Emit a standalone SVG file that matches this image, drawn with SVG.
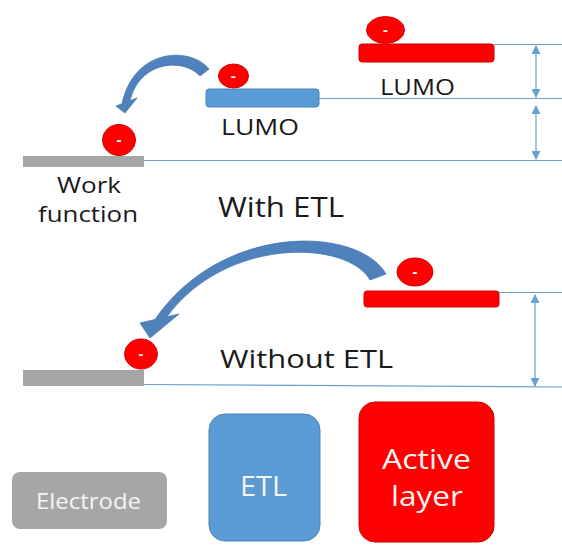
<svg xmlns="http://www.w3.org/2000/svg" width="562" height="546" viewBox="0 0 562 546">
  <defs>
    <style>
      text { font-family: "Open Sans", "Liberation Sans", sans-serif; }
      .lbl { fill: #1a1a1a; }
      .lvl { stroke: #6a9fd2; stroke-width: 1.2; fill: none; }
      .gap { stroke: #6a9fd2; stroke-width: 1.2; fill: none; marker-start: url(#tip); marker-end: url(#tip); }
      .e { fill: #ff0000; stroke: #d40000; stroke-width: 1; }
      .minus { fill: #ffffff; font-weight: bold; font-size: 15px; text-anchor: middle; }
      .red { fill: #ff0000; stroke: #d00000; stroke-width: 1; }
      .blue { fill: #5b9bd5; stroke: #4a82b8; stroke-width: 1; }
      .grey { fill: #a6a6a6; }
      .hop { fill: #4f81bd; stroke: #4677b0; stroke-width: 0.8; stroke-linejoin: round; }
      .inbox { fill: #f4f4f4; }
    </style>
    <marker id="tip" viewBox="0 0 10 10" refX="9" refY="5" markerWidth="9" markerHeight="9" markerUnits="userSpaceOnUse" orient="auto-start-reverse">
      <path d="M0,0 L10,5 L0,10 Z" fill="#6a9fd2"/>
    </marker>
  </defs>

  <rect width="562" height="546" fill="#ffffff"/>

  <!-- energy levels and gaps -->
  <g id="connectors">
    <line class="lvl" x1="494" y1="44.5" x2="562" y2="44.5"/>
    <line class="lvl" x1="319" y1="98.5" x2="562" y2="98.5"/>
    <line class="lvl" x1="144" y1="160.5" x2="562" y2="160.5"/>
    <line class="lvl" x1="499" y1="292.5" x2="562" y2="292.5"/>
    <line class="lvl" x1="144" y1="384.5" x2="562" y2="387"/>
    <line class="gap" x1="536" y1="46" x2="536" y2="97"/>
    <line class="gap" x1="536" y1="106" x2="536" y2="159"/>
    <line class="gap" x1="535" y1="295" x2="535" y2="386"/>

    <!-- electron hop: active layer -> ETL -> electrode (curved block arrow) -->
    <path class="hop" d="M209 69 C190 46, 134 48, 122 103.7 L116 106 L125 113 L137 98 L130 100.7 C140 60, 184 58, 200 76 Z"/>
    <!-- electron hop: active layer -> electrode (curved block arrow) -->
    <path class="hop" d="M386 274 C358 226, 222 222, 155 319.5 L140 323 L150 338 L179 314 L167 316.7 C226 236, 348 240, 370 280 Z"/>
  </g>

  <!-- with ETL -->
  <g id="active-lumo-top">
    <rect class="red" x="359" y="44" width="135" height="18" rx="3"/>
    <text class="lbl" x="380" y="95" font-size="22" textLength="75" lengthAdjust="spacingAndGlyphs">LUMO</text>
  </g>
  <g id="etl-lumo">
    <rect class="blue" x="206" y="89" width="113" height="18" rx="3"/>
    <text class="lbl" x="221" y="135" font-size="22" textLength="78" lengthAdjust="spacingAndGlyphs">LUMO</text>
  </g>
  <g id="electrode-top">
    <rect class="grey" x="23" y="156" width="121" height="11"/>
    <text class="lbl" x="57" y="193" font-size="21" textLength="64" lengthAdjust="spacingAndGlyphs">Work</text>
    <text class="lbl" x="38" y="222" font-size="21" textLength="100" lengthAdjust="spacingAndGlyphs">function</text>
  </g>
  <g id="electron-1">
    <ellipse class="e" cx="385.5" cy="30" rx="19" ry="13.5"/>
    <text class="minus" x="385.5" y="35">-</text>
  </g>
  <g id="electron-2">
    <ellipse class="e" cx="233.5" cy="76" rx="15" ry="12"/>
    <text class="minus" x="233.5" y="81">-</text>
  </g>
  <g id="electron-3">
    <ellipse class="e" cx="119" cy="140" rx="16.5" ry="15.5"/>
    <text class="minus" x="119" y="145">-</text>
  </g>
  <g id="title-with">
    <text class="lbl" x="218" y="217" font-size="27" textLength="126" lengthAdjust="spacingAndGlyphs">With ETL</text>
  </g>

  <!-- without ETL -->
  <g id="active-lumo-bottom">
    <rect class="red" x="364" y="291" width="135" height="16" rx="3"/>
  </g>
  <g id="electrode-bottom">
    <rect class="grey" x="23" y="370" width="121" height="16"/>
  </g>
  <g id="electron-4">
    <ellipse class="e" cx="415" cy="272" rx="18" ry="14"/>
    <text class="minus" x="415" y="277">-</text>
  </g>
  <g id="electron-5">
    <ellipse class="e" cx="141" cy="354" rx="16.5" ry="15"/>
    <text class="minus" x="141" y="359">-</text>
  </g>
  <g id="title-without">
    <text class="lbl" x="220" y="368" font-size="26" textLength="173" lengthAdjust="spacingAndGlyphs">Without ETL</text>
  </g>

  <!-- legend -->
  <g id="legend-electrode">
    <rect class="grey" x="12" y="472" width="155" height="57" rx="8"/>
    <text class="inbox" x="36" y="509" font-size="21" textLength="105" lengthAdjust="spacingAndGlyphs">Electrode</text>
  </g>
  <g id="legend-etl">
    <rect class="blue" x="209" y="414" width="111" height="127" rx="16"/>
    <text class="inbox" x="240" y="496" font-size="27" textLength="47" lengthAdjust="spacingAndGlyphs">ETL</text>
  </g>
  <g id="legend-active">
    <rect class="red" x="359" y="402" width="135" height="140" rx="16"/>
    <text class="inbox" x="382" y="469" font-size="27" textLength="89" lengthAdjust="spacingAndGlyphs">Active</text>
    <text class="inbox" x="391" y="506" font-size="27" textLength="72" lengthAdjust="spacingAndGlyphs">layer</text>
  </g>
</svg>
